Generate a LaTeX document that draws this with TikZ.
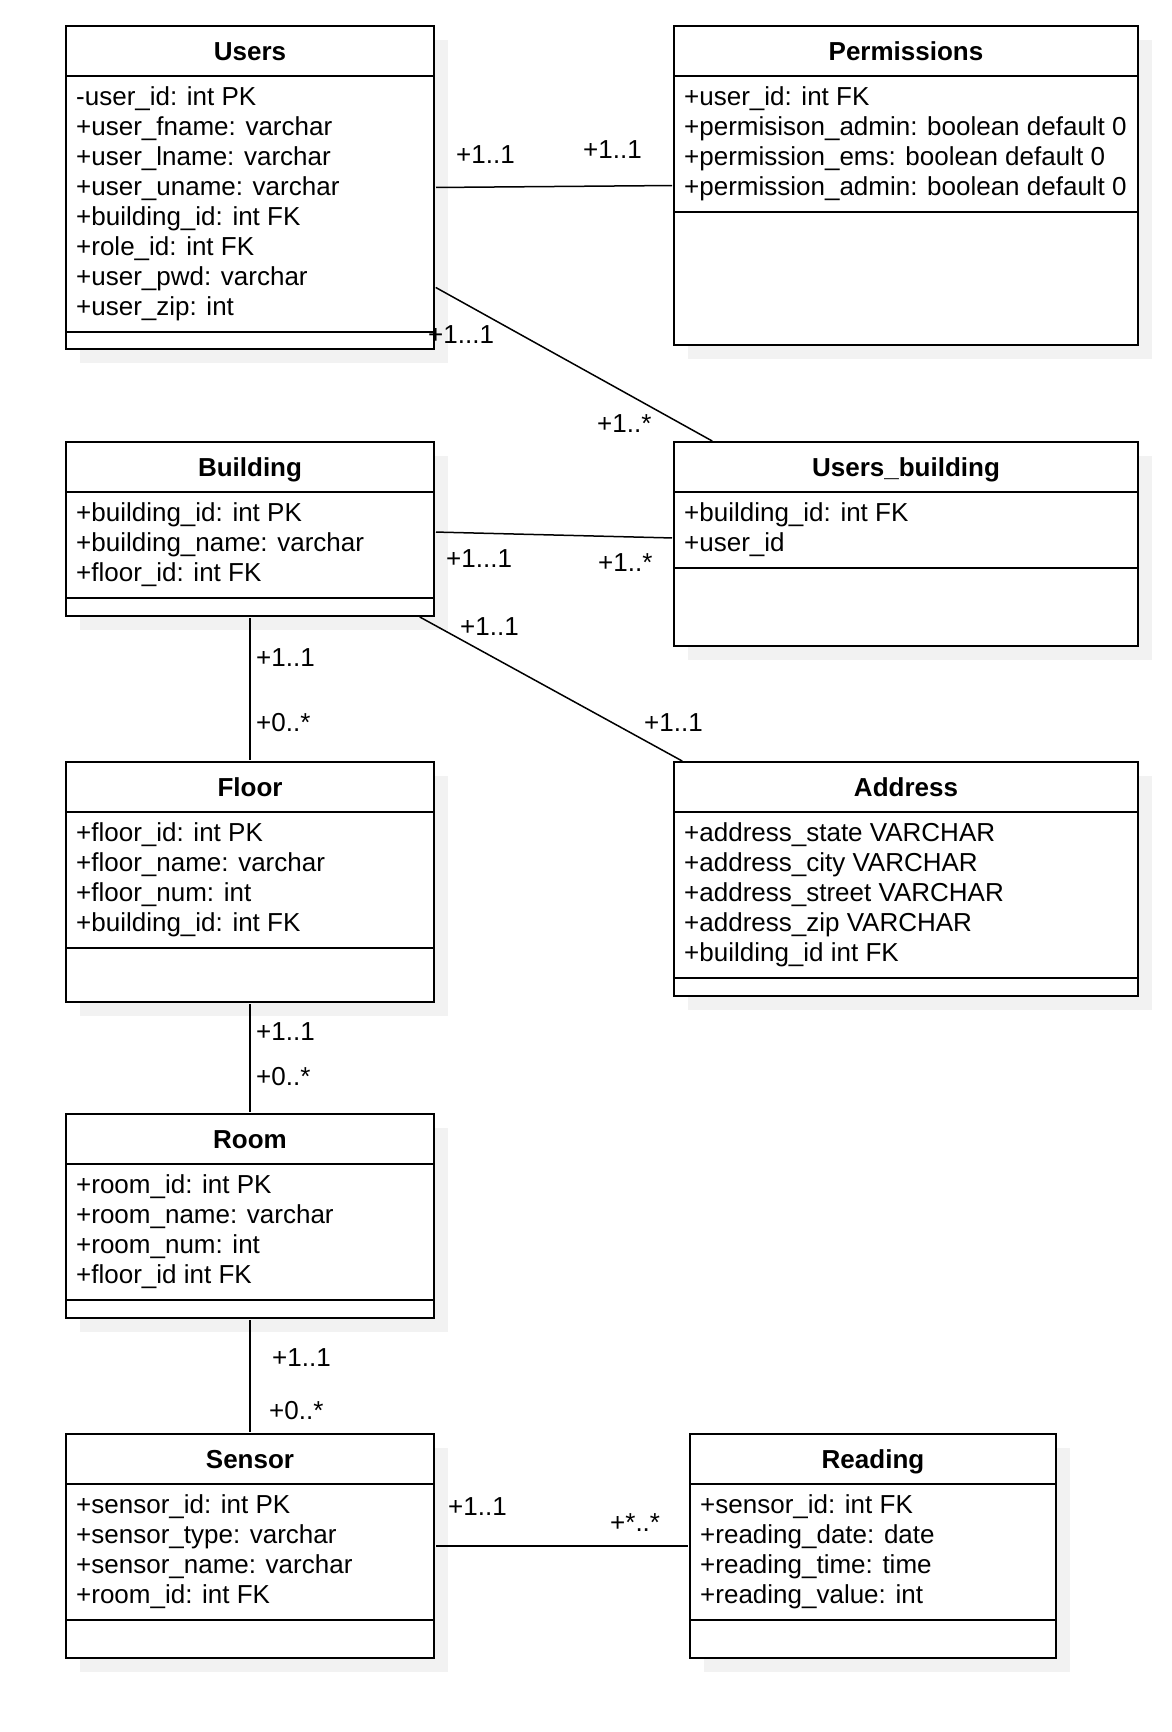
\documentclass[tikz,border=0pt]{standalone}
\usepackage{fontspec}
\setmainfont{Liberation Sans}
\usepackage{tikz}
\usetikzlibrary{calc}
\definecolor{shadowcol}{HTML}{F2F2F2}
\newcommand\diafont{\fontsize{26}{30}\selectfont}
\tikzset{
  classbox/.style={draw,fill=white,line width=2pt,inner sep=0pt,outer sep=0pt},
  classline/.style={line width=2pt},
  classtitle/.style={anchor=base,inner sep=0pt,font=\diafont\bfseries},
  classattr/.style={anchor=base west,inner sep=0pt,font=\diafont},
  assoc/.style={line width=1.5pt,shorten <=2pt,shorten >=2pt},
  mult/.style={anchor=base west,inner sep=0pt,font=\diafont}
}
% #1 name, #2 top left, #3 width, #4 title, #5 rows, #6 number of rows, #7 bottom height
\newcommand{\umlclass}[7]{%
  \pgfmathsetmacro\hattr{30*#6+16}
  \pgfmathsetmacro\htot{50+\hattr+#7}
  \fill[shadowcol] ($#2+(14,14)$) rectangle ++(#3,\htot);
  \node[classbox,minimum width=#3pt,minimum height=\htot pt,anchor=north west] (#1) at #2 {};
  \draw[classline] ($(#1.north west)+(0,50)$) -- ($(#1.north east)+(0,50)$);
  \draw[classline] ($(#1.north west)+(0,50+\hattr)$) -- ($(#1.north east)+(0,50+\hattr)$);
  \node[classtitle] (#1-t) at ($(#1.north)+(0,34)$) {#4};
  \foreach \row [count=\i] in {#5}
    \node[classattr] (#1-r\i) at ($(#1.north west)+(10,50+30*\i-1)$) {\row};
}

\begin{document}
\begin{tikzpicture}[x=1pt,y=-1pt]
  \useasboundingbox (0,0) rectangle (1172,1732);

  % CLASSES
  \umlclass{users}{(66,26)}{368}{Users}{-user\_id: int PK,+user\_fname: varchar,
    +user\_lname: varchar,+user\_uname: varchar,+building\_id: int FK,
    +role\_id: int FK,+user\_pwd: varchar,+user\_zip: int}{8}{17}
  \umlclass{perm}{(674,26)}{464}{Permissions}{+user\_id: int FK,
    +permisison\_admin: boolean default 0,+permission\_ems: boolean default 0,
    +permission\_admin: boolean default 0}{4}{133}
  \umlclass{building}{(66,442)}{368}{Building}{+building\_id: int PK,
    +building\_name: varchar,+floor\_id: int FK}{3}{18}
  \umlclass{ub}{(674,442)}{464}{Users\_building}{+building\_id: int FK,+user\_id}{2}{78}
  \umlclass{floor}{(66,762)}{368}{Floor}{+floor\_id: int PK,+floor\_name: varchar,
    +floor\_num: int,+building\_id: int FK}{4}{54}
  \umlclass{address}{(674,762)}{464}{Address}{+address\_state VARCHAR,
    +address\_city VARCHAR,+address\_street VARCHAR,+address\_zip VARCHAR,
    +building\_id int FK}{5}{18}
  \umlclass{room}{(66,1114)}{368}{Room}{+room\_id: int PK,+room\_name: varchar,
    +room\_num: int,+floor\_id int FK}{4}{18}
  \umlclass{sensor}{(66,1434)}{368}{Sensor}{+sensor\_id: int PK,+sensor\_type: varchar,
    +sensor\_name: varchar,+room\_id: int FK}{4}{38}
  \umlclass{reading}{(690,1434)}{366}{Reading}{+sensor\_id: int FK,+reading\_date: date,
    +reading\_time: time,+reading\_value: int}{4}{38}

  % ASSOCIATIONS
  \draw[assoc] (users.east) -- (perm.west);
  \draw[assoc] ($(users.east)+(0,99)$) -- ($(ub.north west)+(40,0)$);
  \draw[assoc] ($(building.east)+(0,3)$) -- ($(ub.west)+(0,-6)$);
  \draw[assoc] ($(building.south east)+(-16,0)$) -- ($(address.north west)+(10,0)$);
  \draw[assoc] (building.south) -- (floor.north);
  \draw[assoc] (floor.south) -- (room.north);
  \draw[assoc] (room.south) -- (sensor.north);
  \draw[assoc] (sensor.east) -- (reading.west);

  % MULTIPLICITIES
  \foreach \nm/\x/\y/\txt in {m1a/456/163/{+1..1}, m1b/583/158/{+1..1},
      m2a/428/343/{+1.{}.{}.1}, m2b/597/432/{+1..*},
      m3a/446/567/{+1.{}.{}.1}, m3b/598/571/{+1..*},
      m4a/460/635/{+1..1}, m4b/644/731/{+1..1},
      m5a/256/666/{+1..1}, m5b/256/731/{+0..*},
      m6a/256/1040/{+1..1}, m6b/256/1085/{+0..*},
      m7a/272/1366/{+1..1}, m7b/269/1419/{+0..*},
      m8a/448/1515/{+1..1}, m8b/610/1531/{+*..*}}
    \node[mult] (\nm) at (\x,\y) {\txt};

\end{tikzpicture}
\end{document}
